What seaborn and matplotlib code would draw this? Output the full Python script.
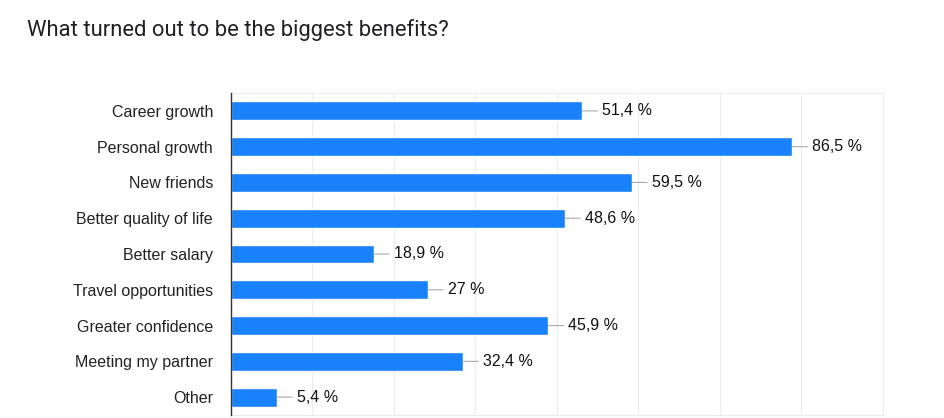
import numpy as np
import seaborn as sns
import matplotlib.pyplot as plt

categories = ['Career growth', 'Personal growth', 'New friends', 'Better quality of life',
              'Better salary', 'Travel opportunities', 'Greater confidence',
              'Meeting my partner', 'Other']
values = [51.4, 86.5, 59.5, 48.6, 18.9, 27, 45.9, 32.4, 5.4]
labels = ['51,4 %', '86,5 %', '59,5 %', '48,6 %', '18,9 %', '27 %', '45,9 %', '32,4 %', '5,4 %']

# the source chart's bar lengths grow a bit slower than linear; a mild power scale reproduces it
POWER = 0.9
X_MAX = 102.2

sns.set_style('white')
plt.rcParams['font.family'] = ['Liberation Sans', 'DejaVu Sans']

fig = plt.figure(figsize=(9.45, 4.18), dpi=100)
ax = fig.add_axes([231 / 945, 3 / 418, 652 / 945, 322 / 418])

ax.set_xscale('function', functions=(lambda v: np.sign(v) * np.abs(v) ** POWER,
                                     lambda t: np.sign(t) * np.abs(t) ** (1 / POWER)))

sns.barplot(x=values, y=categories, orient='h', color='#1a82f8', saturation=1,
            width=0.53, ax=ax)

ax.set_xlim(0, X_MAX)
ax.set_ylim(8.5, -0.5)
ax.set_xticks([])
ax.grid(False)
# light vertical gridlines every eighth of the plot width
ax.vlines(np.arange(1, 8) / 8, 0, 1, color='#ededed', lw=0.9, zorder=0,
          transform=ax.transAxes)
ax.tick_params(axis='y', length=0, labelsize=11.5, pad=13, labelcolor='#222222')
ax.set_xlabel('')
ax.set_ylabel('')

for side in ['top', 'right', 'bottom']:
    ax.spines[side].set_color('#ececec')
ax.spines['left'].set_color('#333333')
ax.spines['left'].set_linewidth(1.0)
ax.spines['left'].set_zorder(5)

for i, (v, lab) in enumerate(zip(values, labels)):
    ax.annotate(lab, xy=(v, i), xytext=(20, 0), textcoords='offset pixels',
                va='center', ha='left', fontsize=11.5, color='#111111',
                arrowprops=dict(arrowstyle='-', color='#aaaaaa', lw=0.8,
                                shrinkA=1, shrinkB=0))

fig.text(27 / 945, 1 - 36 / 418, 'What turned out to be the biggest benefits?',
         fontsize=15.8, family=['Roboto', 'DejaVu Sans'], color='#202124', va='baseline')

fig.savefig('out.png', dpi=100)
